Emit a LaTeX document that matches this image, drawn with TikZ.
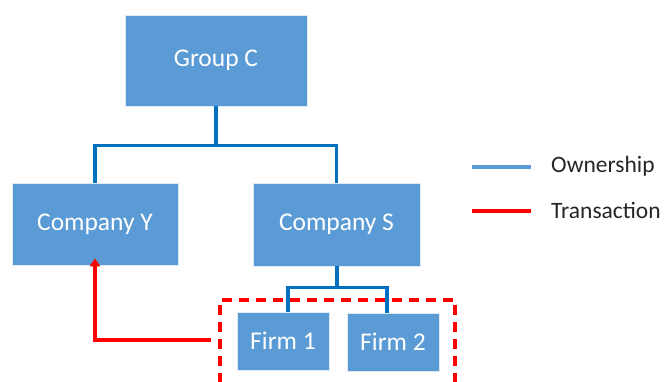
\documentclass[tikz,border=0pt]{standalone}
\usepackage{fontspec}
\setmainfont{Carlito}
\usetikzlibrary{arrows.meta}
\definecolor{boxblue}{HTML}{5B9BD5}
\definecolor{lineblue}{HTML}{0070C0}
\definecolor{legtext}{HTML}{262626}
\begin{document}
\begin{tikzpicture}[x=1pt,y=-1pt,
  orgbox/.style={fill=boxblue,draw=white!80!boxblue,line width=0.6pt,text=white,font=\fontsize{25.5}{30}\selectfont,inner sep=0pt},
  own/.style={draw=lineblue,line width=3.2pt},
  trans/.style={draw=red,line width=3.2pt},
  legtxt/.style={anchor=west,text=legtext,font=\fontsize{23.5}{28}\selectfont,inner sep=0pt}]
\useasboundingbox (0,0) rectangle (664,382);
\node[orgbox,minimum width=182pt,minimum height=91pt] (g) at (216,60.5) {Group C};
\node[orgbox,minimum width=166pt,minimum height=82pt] (y) at (95,224) {Company Y};
\node[orgbox,minimum width=167pt,minimum height=83pt] (s) at (336.5,224.5) {Company S};
\node[orgbox,minimum width=92pt,minimum height=58pt] (f1) at (283,341) {Firm 1};
\node[orgbox,minimum width=92pt,minimum height=58pt] (f2) at (393,342) {Firm 2};
% ownership
\draw[own] (g.south) -- ++(0,39) coordinate (gj);
\draw[own] (y.north) |- (gj) -| (s.north);
\draw[own] ([xshift=0.5pt]s.south) -- ++(0,21) coordinate (sj);
\draw[own] ([xshift=5pt]f1.north) |- (sj) -| ([xshift=-6pt]f2.north);
% dashed group
\draw[red,line width=3.2pt,dash pattern=on 10pt off 7pt] (220,400) -- (220,300) -- (455,300) -- (455,400);
% transaction
\coordinate (tstart) at (211,340);
\draw[trans,-{Triangle[length=8pt,width=10pt]}] (tstart) -| ([yshift=7pt]y.south);
% legend
\coordinate (l1a) at (472,167); \coordinate (l1b) at (531,167);
\coordinate (l2a) at (472,211); \coordinate (l2b) at (531,211);
\draw[draw=boxblue,line width=3.2pt] (l1a) -- (l1b);
\draw[trans] (l2a) -- (l2b);
\node[legtxt] (lo) at (551,166) {Ownership};
\node[legtxt] (lt) at (551,210) {Transaction};
\end{tikzpicture}
\end{document}
